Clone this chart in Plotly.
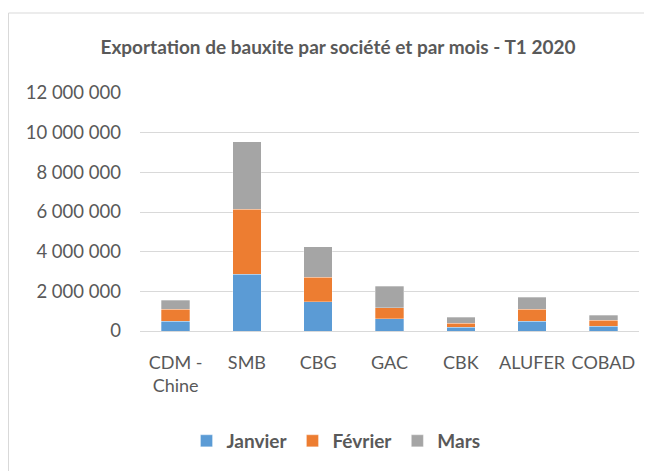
import plotly.graph_objects as go

categories = ["CDM -<br>Chine", "SMB", "CBG", "GAC", "CBK", "ALUFER", "COBAD"]
janvier = [490000, 2860000, 1470000, 620000, 190000, 490000, 250000]
fevrier = [600000, 3290000, 1230000, 550000, 210000, 600000, 300000]
mars = [470000, 3400000, 1540000, 1090000, 300000, 620000, 240000]
series_names = ["Janvier", "Février", "Mars"]
series_colors = ["#5B9BD5", "#ED7D31", "#A5A5A5"]
tick_vals = [0, 2000000, 4000000, 6000000, 8000000, 10000000, 12000000]
tick_text = ["0", "2 000 000", "4 000 000", "6 000 000", "8 000 000", "10 000 000", "12 000 000"]

FONT = "Lato"
TXT = "#595959"
fig = go.Figure()
for name, vals, col in zip(series_names, [janvier, fevrier, mars], series_colors):
    fig.add_trace(go.Bar(x=categories, y=vals, name="<b>" + name + "</b>", marker_color=col,
                         marker_line=dict(color="rgba(255,255,255,0.6)", width=0.5)))

W, H = 652, 471
OFF = 8  # page body margin
# target screen positions of plot area
SL, SR, ST, SB = 140, 639, 93, 331
L = SL - OFF
T = ST - OFF
R = W - (SR - OFF)
B = H - (SB - OFF)
pw, ph = W - L - R, H - T - B


def px_x(p):
    return (p - SL) / pw


def px_y(p):
    return (SB - p) / ph


fig.update_layout(
    width=W, height=H,
    margin=dict(l=L, r=R, t=T, b=B, pad=0),
    barmode="stack", bargap=0.6,
    paper_bgcolor="white", plot_bgcolor="white",
    font=dict(family=FONT, color=TXT),
    title=dict(text="<b>Exportation de bauxite par société et par mois - T1 2020</b>",
               x=(338 - OFF) / W, xanchor="center", y=1 - (47 - OFF) / H, yanchor="middle",
               xref="container", yref="container",
               font=dict(family=FONT, size=19, color=TXT)),
    xaxis=dict(showgrid=False, showline=False, ticks="", ticklabelstandoff=19,
               tickfont=dict(size=18, color=TXT)),
    yaxis=dict(range=[0, 12000000], tickvals=tick_vals, ticktext=tick_text,
               showgrid=True, gridcolor="#d9d9d9", gridwidth=1, zeroline=True,
               zerolinecolor="#d9d9d9", zerolinewidth=1, showline=False, ticks="",
               ticklabelstandoff=18,
               tickfont=dict(size=18.5, color=TXT)),
    legend=dict(orientation="h", x=px_x(336), xanchor="center", y=px_y(441), yanchor="middle",
                font=dict(size=19, color=TXT, family=FONT), traceorder="normal",
                itemwidth=30, bgcolor="rgba(0,0,0,0)"),
    showlegend=True,
)

fig.add_shape(type="rect", xref="paper", yref="paper",
              x0=px_x(8.5), x1=px_x(680), y0=px_y(500), y1=px_y(13),
              line=dict(color="#d9d9d9", width=1), fillcolor="rgba(0,0,0,0)", layer="below")

fig.write_html("out.html")
